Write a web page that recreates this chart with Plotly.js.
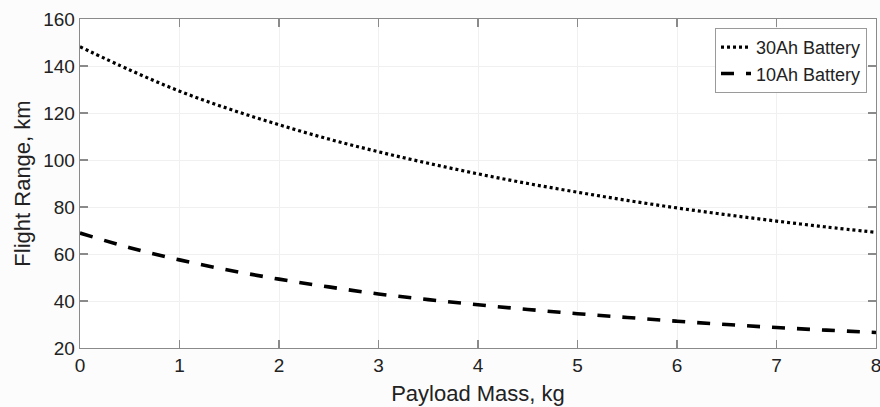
<!DOCTYPE html>
<html>
<head>
<meta charset="utf-8">
<script src="https://cdn.plot.ly/plotly-3.0.1.min.js"></script>
<style>html,body{margin:0;padding:0;background:#fcfcfc;}#chart{width:880px;height:407px;}</style>
</head>
<body>
<div id="chart"></div>
<script>
const payloadMass = [0,0.5,1,1.5,2,2.5,3,3.5,4,4.5,5,5.5,6,6.5,7,7.5,8];
const range30Ah = [148.2,138.3,129.3,121.7,115.0,108.9,103.5,98.6,94.1,90.0,86.3,82.8,79.6,76.7,74.0,71.5,69.2];
const range10Ah = [68.9,62.7,57.5,53.1,49.3,46.0,43.0,40.6,38.4,36.4,34.6,33.0,31.4,30.0,28.7,27.6,26.6];
const seriesNames = ["30Ah Battery","10Ah Battery"];
const xTicks = [0,1,2,3,4,5,6,7,8];
const yTicks = [20,40,60,80,100,120,140,160];

const fontFam = "Liberation Sans, Arial, sans-serif";
const traces = [
  {x: payloadMass, y: range30Ah, name: seriesNames[0], type: "scatter", mode: "lines",
   line: {color: "#000", width: 3.2, dash: "3px,3px", shape: "spline"}},
  {x: payloadMass, y: range10Ah, name: seriesNames[1], type: "scatter", mode: "lines",
   line: {color: "#000", width: 3.6, dash: "13px,12px", shape: "spline"}}
];
const axisCommon = {
  showline: true, linecolor: "#8a8a8a", linewidth: 1.3, mirror: "ticks",
  ticks: "inside", ticklen: 8, tickcolor: "#8a8a8a", tickwidth: 1.3,
  showgrid: true, gridcolor: "#f0f0f0", gridwidth: 1, zeroline: false,
  ticklabeloverflow: "allow",
  tickfont: {family: fontFam, size: 19, color: "#222"}
};
const layout = {
  width: 880, height: 407,
  margin: {l: 80, r: 4, t: 19, b: 59},
  paper_bgcolor: "#fcfcfc", plot_bgcolor: "#ffffff",
  showlegend: true,
  legend: {x: 0.9887, xanchor: "right", y: 0.973, yanchor: "top",
           bgcolor: "#ffffff", bordercolor: "#9a9a9a", borderwidth: 1,
           font: {family: fontFam, size: 18, color: "#222"},
           tracegroupgap: 0, itemwidth: 30},
  xaxis: Object.assign({}, axisCommon, {
    range: [0, 8], tickvals: xTicks, ticktext: xTicks.map(String),
    title: {text: "Payload Mass, kg", font: {family: fontFam, size: 22, color: "#222"}, standoff: 10}
  }),
  yaxis: Object.assign({}, axisCommon, {
    range: [20, 160], tickvals: yTicks, ticktext: yTicks.map(String),
    title: {text: "Flight Range, km", font: {family: fontFam, size: 22, color: "#222"}, standoff: 6}
  })
};
Plotly.newPlot("chart", traces, layout, {displayModeBar: false, staticPlot: true});
</script>
</body>
</html>
